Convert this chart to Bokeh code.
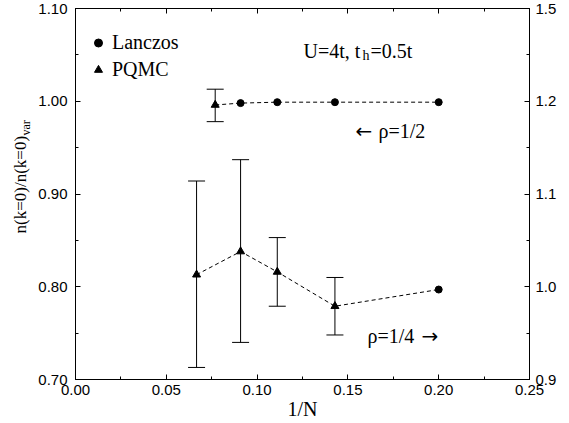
import math
from bokeh.plotting import figure
from bokeh.layouts import row
from bokeh.models import (ColumnDataSource, Whisker, TeeHead, LinearAxis, Range1d, FixedTicker,
                          NumeralTickFormatter, CustomJSTickFormatter, Label, Legend, LegendItem)
from bokeh.embed import file_html
from bokeh.resources import INLINE

# ---------------- data ----------------
half_lanczos_invN = [1 / 11, 1 / 9, 1 / 7, 1 / 5]
half_lanczos_n = [0.998, 0.999, 0.999, 0.999]
half_pqmc_invN = [1 / 13]
half_pqmc_n = [0.996]
half_pqmc_upper = [1.013]
half_pqmc_lower = [0.978]

quarter_pqmc_invN = [1 / 15, 1 / 11, 1 / 9, 1 / 7]
quarter_pqmc_n = [0.813, 0.838, 0.816, 0.779]
quarter_pqmc_upper = [0.914, 0.937, 0.853, 0.810]
quarter_pqmc_lower = [0.713, 0.740, 0.779, 0.748]
quarter_lanczos_invN = [1 / 5]
quarter_lanczos_n = [0.797]

x_ticks = [0.00, 0.05, 0.10, 0.15, 0.20, 0.25]
x_minor_ticks = [0.025, 0.075, 0.125, 0.175, 0.225]
y_ticks = [0.70, 0.80, 0.90, 1.00, 1.10]
y_minor_ticks = [0.75, 0.85, 0.95, 1.05]
right_ticks = [0.9, 1.0, 1.1, 1.2, 1.3]
right_minor_ticks = [0.95, 1.05, 1.15, 1.25]
right_tick_labels = ["0.9", "1.0", "1.1", "1.2", "1.5"]

SANS = "Liberation Sans"
SERIF = "Liberation Serif"
ARROWS = "DejaVu Sans"

LEFT_W = 35
TOTAL_W = 569
TOTAL_H = 423

# ---------------- main figure ----------------
p = figure(width=TOTAL_W - LEFT_W, height=TOTAL_H, x_range=(0.0, 0.25), y_range=(0.70, 1.10),
           output_backend="svg", toolbar_location=None,
           min_border_left=75 - LEFT_W, min_border_right=40, min_border_top=8, min_border_bottom=44)
p.xgrid.visible = False
p.ygrid.visible = False
p.outline_line_color = "black"
p.background_fill_color = "white"
p.border_fill_color = "white"


def style_axis(ax):
    ax.axis_line_color = "black"
    ax.axis_line_width = 1
    ax.major_tick_in = 5
    ax.major_tick_out = 0
    ax.minor_tick_in = 3
    ax.minor_tick_out = 0
    ax.major_tick_line_color = "black"
    ax.minor_tick_line_color = "black"
    ax.major_label_text_font = SANS
    ax.major_label_text_font_size = "15px"
    ax.major_label_text_color = "black"
    ax.major_label_standoff = 5


xb = p.xaxis[0]
xb.ticker = FixedTicker(ticks=x_ticks, minor_ticks=x_minor_ticks)
xb.formatter = NumeralTickFormatter(format="0.00")
style_axis(xb)
xb.axis_label = "1/N"
xb.axis_label_text_font = SERIF
xb.axis_label_text_font_style = "normal"
xb.axis_label_text_font_size = "20px"
xb.axis_label_text_color = "black"
xb.axis_label_standoff = 0

yl = p.yaxis[0]
yl.ticker = FixedTicker(ticks=y_ticks, minor_ticks=y_minor_ticks)
yl.formatter = NumeralTickFormatter(format="0.00")
style_axis(yl)
yl.major_label_standoff = 8

xt = LinearAxis(ticker=FixedTicker(ticks=x_ticks, minor_ticks=x_minor_ticks),
                formatter=CustomJSTickFormatter(code="return ''"))
style_axis(xt)
xt.major_label_text_font_size = "0px"
xt.major_label_standoff = 0
p.add_layout(xt, "above")

p.extra_y_ranges = {"right": Range1d(0.9, 1.3)}
yr = LinearAxis(y_range_name="right",
                ticker=FixedTicker(ticks=right_ticks, minor_ticks=right_minor_ticks),
                formatter=CustomJSTickFormatter(
                    args=dict(tick_values=right_ticks, tick_labels=right_tick_labels),
                    code="""
const i = tick_values.findIndex((t) => Math.abs(t - tick) < 1e-6);
return i >= 0 ? tick_labels[i] : '';
"""))
style_axis(yr)
yr.major_label_standoff = 6
p.add_layout(yr, "right")

# ---------------- dashed lines ----------------
half_x = half_pqmc_invN + half_lanczos_invN
half_y = half_pqmc_n + half_lanczos_n
p.line(half_x, half_y, line_color="black", line_width=1, line_dash="4 3")

quarter_x = quarter_pqmc_invN + quarter_lanczos_invN
quarter_y = quarter_pqmc_n + quarter_lanczos_n
p.line(quarter_x, quarter_y, line_color="black", line_width=1, line_dash="4 3")

# ---------------- error bars ----------------
err_src = ColumnDataSource(dict(
    x=half_pqmc_invN + quarter_pqmc_invN,
    upper=half_pqmc_upper + quarter_pqmc_upper,
    lower=half_pqmc_lower + quarter_pqmc_lower,
))
whisker = Whisker(base="x", upper="upper", lower="lower", source=err_src,
                  line_color="black", line_width=1,
                  upper_head=TeeHead(size=17, line_color="black", line_width=1),
                  lower_head=TeeHead(size=17, line_color="black", line_width=1))
p.add_layout(whisker)

# ---------------- markers ----------------
r_lanczos = p.scatter(half_lanczos_invN + quarter_lanczos_invN, half_lanczos_n + quarter_lanczos_n,
                      marker="circle", size=7, fill_color="black", line_color="black")
r_pqmc = p.scatter(half_pqmc_invN + quarter_pqmc_invN, half_pqmc_n + quarter_pqmc_n,
                   marker="triangle", size=8, fill_color="black", line_color="black")

legend = Legend(items=[LegendItem(label="Lanczos", renderers=[r_lanczos]),
                       LegendItem(label="PQMC", renderers=[r_pqmc])],
                location=(13, 296), margin=0, padding=0, spacing=0,
                glyph_width=20, glyph_height=27, label_height=27, label_standoff=4,
                border_line_color=None, background_fill_alpha=0,
                label_text_font=SERIF, label_text_font_size="20px", label_text_color="black")
p.add_layout(legend)


# ---------------- text annotations (screen units, frame-relative) ----------------
def add_text(fig, text, x, y, size="20px", align="left", angle=0.0, font=SERIF,
             baseline="alphabetic"):
    fig.add_layout(Label(x=x, y=y, x_units="screen", y_units="screen", text=text,
                         text_font=font, text_font_size=size, text_color="black",
                         text_align=align, text_baseline=baseline, angle=angle))


add_text(p, "U=4t, t", 228, 329)
add_text(p, "h", 287, 324, size="14px")
add_text(p, "=0.5t", 295, 329)
add_text(p, "\u2190", 280, 249, font=ARROWS)
add_text(p, "\u03c1=1/2", 303, 249)
add_text(p, "\u03c1=1/4", 292, 44)
add_text(p, "\u2192", 346, 44, font=ARROWS)

# ---------------- left strip holding the rotated y label ----------------
lf = figure(width=LEFT_W, height=TOTAL_H, x_range=(0, 1), y_range=(0, 1),
            x_axis_type=None, y_axis_type=None, output_backend="svg", toolbar_location=None,
            min_border=0, min_border_left=0, min_border_right=0, min_border_top=0, min_border_bottom=0)
lf.xgrid.visible = False
lf.ygrid.visible = False
lf.outline_line_color = None
lf.background_fill_color = "white"
lf.border_fill_color = "white"
# frame of this strip is aligned with the main frame (bottom at y=379 of the page)
add_text(lf, "n(k=0)/n(k=0)", 20, 146, size="17px", angle=math.pi / 2, baseline="middle")
add_text(lf, "var", 25, 244, size="12px", angle=math.pi / 2, baseline="middle")

layout = row(lf, p, spacing=0)
open("out.html", "w").write(file_html(layout, INLINE))
